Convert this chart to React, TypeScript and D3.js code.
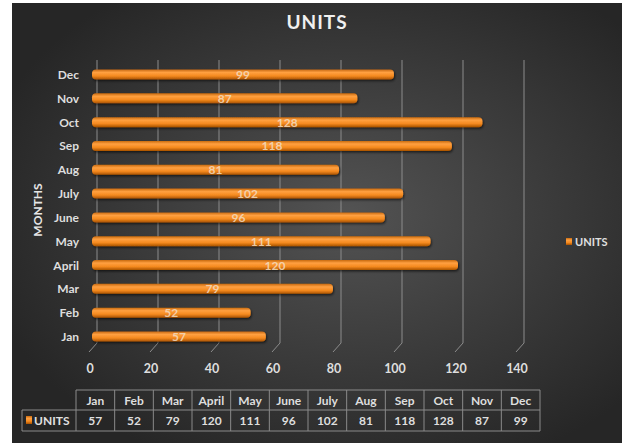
import * as d3 from 'd3';
import React, { useEffect, useRef } from 'react';

const months = ['Jan', 'Feb', 'Mar', 'April', 'May', 'June', 'July', 'Aug', 'Sep', 'Oct', 'Nov', 'Dec'];
const units = [57, 52, 79, 120, 111, 96, 102, 81, 118, 128, 87, 99];
const xTicks = [0, 20, 40, 60, 80, 100, 120, 140];
const seriesName = 'UNITS';

const App = () => {
  const ref = useRef<SVGSVGElement>(null);

  useEffect(() => {
    const width = 629, height = 446;
    const font = 'Lato, "Open Sans", sans-serif';
    const svg = d3.select(ref.current);
    svg.selectAll('*').remove();

    const defs = svg.append('defs');
    const bg = defs.append('radialGradient').attr('id', 'bg')
      .attr('cx', '55%').attr('cy', '48%').attr('r', '62%');
    bg.append('stop').attr('offset', '0%').attr('stop-color', '#535353');
    bg.append('stop').attr('offset', '100%').attr('stop-color', '#262626');

    const barGrad = defs.append('linearGradient').attr('id', 'bar')
      .attr('x1', 0).attr('y1', 0).attr('x2', 0).attr('y2', 1);
    barGrad.append('stop').attr('offset', '0%').attr('stop-color', '#c86a10');
    barGrad.append('stop').attr('offset', '30%').attr('stop-color', '#ffa040');
    barGrad.append('stop').attr('offset', '65%').attr('stop-color', '#f58a1f');
    barGrad.append('stop').attr('offset', '100%').attr('stop-color', '#a85200');

    const shadow = defs.append('filter').attr('id', 'sh')
      .attr('x', '-5%').attr('y', '-50%').attr('width', '110%').attr('height', '200%');
    shadow.append('feDropShadow').attr('dx', 1).attr('dy', 1.5)
      .attr('stdDeviation', 1.2).attr('flood-color', '#000').attr('flood-opacity', 0.6);

    // background
    svg.append('rect').attr('x', 12).attr('y', 3).attr('width', 610).attr('height', 440)
      .attr('fill', 'url(#bg)');

    const x = d3.scaleLinear().domain([0, 140]).range([92, 519]);
    const y = d3.scalePoint().domain([...months].reverse()).range([74.5, 336.5]);
    const barH = 10;
    const gridTop = 60, gridBottom = 343;

    // gridlines on the back wall, with a slanted foot on the floor
    svg.append('g').selectAll('path').data(xTicks).join('path')
      .attr('d', d => `M${x(d) + 5},${gridTop}V${gridBottom}L${x(d) - 3},${gridBottom + 9}`)
      .attr('fill', 'none').attr('stroke', '#8c8c8c').attr('stroke-width', 1);

    // bars
    svg.append('g').selectAll('rect').data(months).join('rect')
      .attr('x', x(0))
      .attr('y', d => y(d)! - barH / 2)
      .attr('width', (d, i) => x(units[i]) - x(0))
      .attr('height', barH)
      .attr('rx', 4)
      .attr('fill', 'url(#bar)')
      .attr('filter', 'url(#sh)');

    // bar labels
    svg.append('g').selectAll('text').data(months).join('text')
      .attr('x', (d, i) => (x(0) + x(units[i])) / 2)
      .attr('y', d => y(d)! + 4.5)
      .attr('text-anchor', 'middle')
      .attr('font-family', font).attr('font-size', 12).attr('font-weight', 'bold')
      .attr('fill', '#f3dcc0').attr('fill-opacity', 0.85)
      .text((d, i) => units[i]);

    // y labels
    svg.append('g').selectAll('text').data(months).join('text')
      .attr('x', 79)
      .attr('y', d => y(d)! + 4.5)
      .attr('text-anchor', 'end')
      .attr('font-family', font).attr('font-size', 12).attr('font-weight', 'bold')
      .attr('fill', '#dedede')
      .text(d => d);

    // x tick labels
    svg.append('g').selectAll('text').data(xTicks).join('text')
      .attr('x', d => x(d) - 2)
      .attr('y', 373)
      .attr('text-anchor', 'middle')
      .attr('font-family', font).attr('font-size', 12.5).attr('font-weight', 'bold')
      .attr('fill', '#dedede')
      .text(d => d);

    // axis title
    svg.append('text')
      .attr('transform', 'translate(42,210) rotate(-90)')
      .attr('text-anchor', 'middle')
      .attr('font-family', font).attr('font-size', 12).attr('font-weight', 'bold')
      .attr('fill', '#e6e6e6')
      .text('MONTHS');

    // title
    svg.append('text')
      .attr('x', 317).attr('y', 29)
      .attr('text-anchor', 'middle')
      .attr('font-family', font).attr('font-size', 19).attr('font-weight', 'bold')
      .attr('letter-spacing', 1)
      .attr('fill', '#f0f0f0')
      .text(seriesName);

    // legend
    svg.append('rect').attr('x', 566).attr('y', 238).attr('width', 6).attr('height', 7)
      .attr('fill', 'url(#bar)');
    svg.append('text').attr('x', 575).attr('y', 246)
      .attr('font-family', font).attr('font-size', 11).attr('font-weight', 'bold')
      .attr('fill', '#e0e0e0').text(seriesName);

    // data table
    const tableLeft = 76, tableRight = 540, keyLeft = 22;
    const rowTop = 390, rowMid = 410, rowBottom = 431;
    const col = d3.scaleBand().domain(months).range([tableLeft, tableRight]);
    const table = svg.append('g').attr('stroke', '#8a8a8a').attr('stroke-width', 1).attr('fill', 'none');
    table.append('path').attr('d',
      `M${tableLeft},${rowTop}H${tableRight}V${rowBottom}H${keyLeft}V${rowMid}H${tableRight}` +
      `M${tableLeft},${rowTop}V${rowBottom}`);
    table.selectAll('line').data(months.slice(1)).join('line')
      .attr('x1', d => col(d)!).attr('x2', d => col(d)!)
      .attr('y1', rowTop).attr('y2', rowBottom);

    svg.append('g').selectAll('text').data(months).join('text')
      .attr('x', d => col(d)! + col.bandwidth() / 2)
      .attr('y', rowTop + 15)
      .attr('text-anchor', 'middle')
      .attr('font-family', font).attr('font-size', 12).attr('font-weight', 'bold')
      .attr('fill', '#dedede')
      .text(d => d);
    svg.append('g').selectAll('text').data(units).join('text')
      .attr('x', (d, i) => col(months[i])! + col.bandwidth() / 2)
      .attr('y', rowMid + 15)
      .attr('text-anchor', 'middle')
      .attr('font-family', font).attr('font-size', 12).attr('font-weight', 'bold')
      .attr('fill', '#dedede')
      .text(d => d);
    svg.append('rect').attr('x', 26).attr('y', 416).attr('width', 6).attr('height', 8)
      .attr('fill', 'url(#bar)');
    svg.append('text').attr('x', 34).attr('y', 425)
      .attr('font-family', font).attr('font-size', 12).attr('font-weight', 'bold')
      .attr('fill', '#e0e0e0').text(seriesName);

    svg.attr('width', width).attr('height', height);
  }, []);

  return <svg ref={ref} width={629} height={446} style={{ position: 'absolute', left: 0, top: 0 }} />;
};

export default App;
